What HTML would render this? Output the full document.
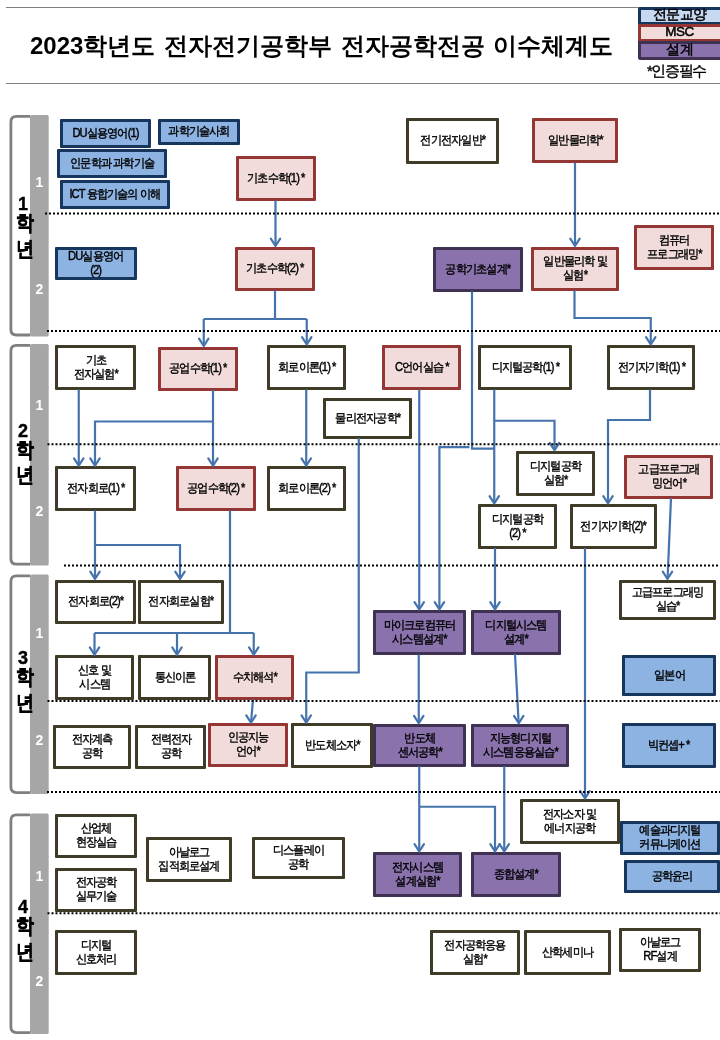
<!DOCTYPE html><html><head><meta charset="utf-8"><title>이수체계도</title><style>
*{margin:0;padding:0;box-sizing:border-box}
html,body{width:720px;height:1040px;overflow:hidden;background:#fff}
#pg{position:absolute;left:0;top:0;width:720px;height:1040px;will-change:transform}
body{position:relative;font-family:"Liberation Sans",sans-serif;color:#000}
.bx{position:absolute;display:flex;align-items:center;justify-content:center;text-align:center;border:3px solid;font-size:12px;line-height:14px;letter-spacing:-1px;white-space:nowrap;border-radius:1px}
.bx span{display:inline-block;transform:translateY(-0.8px) scaleX(0.93);-webkit-text-stroke:0.4px #000}
.w{background:#fff;border-color:#403b27}
.b{background:#8db3e2;border-color:#17365d}
.p{background:#f2dcdb;border-color:#943634}
.u{background:#8a72ad;border-color:#3f3151}
.title{position:absolute;left:30px;top:30px;font-size:24px;font-weight:bold;white-space:nowrap;line-height:32px;word-spacing:2px;letter-spacing:0px}
.lg{position:absolute;left:637.5px;width:90px;border:3px solid;border-right:0;font-size:13.5px;display:flex;align-items:center;justify-content:center;padding-right:9px;padding-bottom:2px;line-height:14px;letter-spacing:-0.5px;-webkit-text-stroke:0.5px #000;border-radius:0}
.yd{position:absolute;left:13px;width:20px;text-align:center;font-weight:bold;font-size:18px;line-height:20px;-webkit-text-stroke:0.4px #000}
.yh{position:absolute;left:13px;width:25px;text-align:center;font-weight:bold;font-size:21px;line-height:24px;transform:scaleX(0.86);-webkit-text-stroke:0.35px #000}
.sm{position:absolute;left:30px;width:19px;text-align:center;font-weight:bold;font-size:14px;color:#fff;line-height:14px}
</style></head><body><div id="pg">
<svg width="720" height="1040" style="position:absolute;left:0;top:0"><line x1="6" y1="7.5" x2="720" y2="7.5" stroke="#808080" stroke-width="1"/><line x1="6" y1="83.5" x2="720" y2="83.5" stroke="#808080" stroke-width="1"/><path d="M30,116.4 H16.4 Q10.9,116.4 10.9,121.9 V329.5 Q10.9,335.0 16.4,335.0 H30" fill="none" stroke="#7f7f7f" stroke-width="2.8"/><rect x="30" y="115" width="18.7" height="221.39999999999998" rx="1.5" fill="#a6a6a6"/><path d="M30,345.4 H16.4 Q10.9,345.4 10.9,350.9 V558.7 Q10.9,564.2 16.4,564.2 H30" fill="none" stroke="#7f7f7f" stroke-width="2.8"/><rect x="30" y="344" width="18.7" height="221.60000000000002" rx="1.5" fill="#a6a6a6"/><path d="M30,575.8 H16.4 Q10.9,575.8 10.9,581.3 V787.1 Q10.9,792.6 16.4,792.6 H30" fill="none" stroke="#7f7f7f" stroke-width="2.8"/><rect x="30" y="574.4" width="18.7" height="219.60000000000002" rx="1.5" fill="#a6a6a6"/><path d="M30,814.9 H16.4 Q10.9,814.9 10.9,820.4 V1027.1 Q10.9,1032.6 16.4,1032.6 H30" fill="none" stroke="#7f7f7f" stroke-width="2.8"/><rect x="30" y="813.5" width="18.7" height="220.5" rx="1.5" fill="#a6a6a6"/></svg>
<div class="yd" style="top:194.0px">1</div>
<div class="yh" style="top:211.3px">학</div>
<div class="yh" style="top:236.7px">년</div>
<div class="yd" style="top:420.7px">2</div>
<div class="yh" style="top:438.0px">학</div>
<div class="yh" style="top:463.4px">년</div>
<div class="yd" style="top:648.0px">3</div>
<div class="yh" style="top:665.3px">학</div>
<div class="yh" style="top:690.7px">년</div>
<div class="yd" style="top:896.8px">4</div>
<div class="yh" style="top:914.1px">학</div>
<div class="yh" style="top:939.5px">년</div>
<div class="bx b" style="left:60px;top:119px;width:91px;height:29px"><span>DU실용영어(1)</span></div>
<div class="bx b" style="left:158px;top:119px;width:82px;height:26px"><span>과학기술사회</span></div>
<div class="bx b" style="left:57px;top:149px;width:110px;height:29px"><span>인문학과 과학기술</span></div>
<div class="bx b" style="left:60px;top:180px;width:110px;height:29px"><span>ICT 융합기술의 이해</span></div>
<div class="bx p" style="left:236px;top:156px;width:80px;height:45px"><span>기초수학(1) *</span></div>
<div class="bx w" style="left:406px;top:118px;width:93px;height:46px"><span>전기전자일반*</span></div>
<div class="bx p" style="left:532px;top:118px;width:86px;height:45px"><span>일반물리학*</span></div>
<div class="bx b" style="left:55px;top:247px;width:82px;height:33px"><span>DU실용영어<br>(2)</span></div>
<div class="bx p" style="left:235px;top:247px;width:80px;height:44px"><span>기초수학(2) *</span></div>
<div class="bx u" style="left:433px;top:247px;width:90px;height:45px"><span>공학기초설계*</span></div>
<div class="bx p" style="left:531px;top:247px;width:88px;height:44px"><span>일반물리학 및<br>실험*</span></div>
<div class="bx p" style="left:634px;top:225px;width:80px;height:45px"><span>컴퓨터<br>프로그래밍*</span></div>
<div class="bx w" style="left:55px;top:345px;width:81px;height:45px"><span>기초<br>전자실험*</span></div>
<div class="bx p" style="left:158px;top:347px;width:80px;height:44px"><span>공업수학(1) *</span></div>
<div class="bx w" style="left:267px;top:345px;width:79px;height:45px"><span>회로이론(1) *</span></div>
<div class="bx p" style="left:382px;top:345px;width:79px;height:45px"><span>C언어실습 *</span></div>
<div class="bx w" style="left:478px;top:345px;width:94px;height:45px"><span>디지털공학(1) *</span></div>
<div class="bx w" style="left:607px;top:345px;width:88px;height:45px"><span>전기자기학(1) *</span></div>
<div class="bx w" style="left:323px;top:398px;width:89px;height:41px"><span>물리전자공학*</span></div>
<div class="bx w" style="left:516px;top:451px;width:79px;height:45px"><span>디지털공학<br>실험*</span></div>
<div class="bx p" style="left:624px;top:455px;width:89px;height:44px"><span>고급프로그래<br>밍언어*</span></div>
<div class="bx w" style="left:55px;top:466px;width:81px;height:45px"><span>전자회로(1) *</span></div>
<div class="bx p" style="left:176px;top:466px;width:80px;height:45px"><span>공업수학(2) *</span></div>
<div class="bx w" style="left:267px;top:466px;width:79px;height:45px"><span>회로이론(2) *</span></div>
<div class="bx w" style="left:478px;top:504px;width:79px;height:45px"><span>디지털공학<br>(2) *</span></div>
<div class="bx w" style="left:570px;top:504px;width:87px;height:45px"><span>전기자기학(2)*</span></div>
<div class="bx w" style="left:55px;top:580px;width:81px;height:44px"><span>전자회로(2)*</span></div>
<div class="bx w" style="left:138px;top:580px;width:86px;height:44px"><span>전자회로실험*</span></div>
<div class="bx w" style="left:619px;top:580px;width:97px;height:40px"><span>고급프로그래밍<br>실습*</span></div>
<div class="bx u" style="left:373px;top:610px;width:93px;height:45px"><span>마이크로컴퓨터<br>시스템설계*</span></div>
<div class="bx u" style="left:471px;top:610px;width:90px;height:45px"><span>디지털시스템<br>설계*</span></div>
<div class="bx w" style="left:55px;top:655px;width:79px;height:45px"><span>신호 및<br>시스템</span></div>
<div class="bx w" style="left:138px;top:655px;width:73px;height:45px"><span>통신이론</span></div>
<div class="bx p" style="left:215px;top:655px;width:79px;height:45px"><span>수치해석*</span></div>
<div class="bx b" style="left:622px;top:655px;width:94px;height:41px"><span>일본어</span></div>
<div class="bx w" style="left:53px;top:725px;width:78px;height:44px"><span>전자계측<br>공학</span></div>
<div class="bx w" style="left:135px;top:725px;width:71px;height:44px"><span>전력전자<br>공학</span></div>
<div class="bx p" style="left:208px;top:723px;width:80px;height:44px"><span>인공지능<br>언어*</span></div>
<div class="bx w" style="left:291px;top:723px;width:82px;height:45px"><span>반도체소자*</span></div>
<div class="bx u" style="left:373px;top:724px;width:93px;height:43px"><span>반도체<br>센서공학*</span></div>
<div class="bx u" style="left:471px;top:724px;width:98px;height:43px"><span>지능형디지털<br>시스템응용실습*</span></div>
<div class="bx b" style="left:622px;top:723px;width:94px;height:45px"><span>빅컨셉+ *</span></div>
<div class="bx w" style="left:55px;top:814px;width:82px;height:44px"><span>산업체<br>현장실습</span></div>
<div class="bx w" style="left:146px;top:837px;width:86px;height:45px"><span>아날로그<br>집적회로설계</span></div>
<div class="bx w" style="left:252px;top:837px;width:93px;height:42px"><span>디스플레이<br>공학</span></div>
<div class="bx w" style="left:520px;top:799px;width:100px;height:45px"><span>전자소자 및<br>에너지공학</span></div>
<div class="bx b" style="left:620px;top:821px;width:100px;height:34px"><span>예술과디지털<br>커뮤니케이션</span></div>
<div class="bx w" style="left:55px;top:868px;width:82px;height:44px"><span>전자공학<br>실무기술</span></div>
<div class="bx u" style="left:373px;top:852px;width:89px;height:45px"><span>전자시스템<br>설계실험*</span></div>
<div class="bx u" style="left:471px;top:852px;width:90px;height:45px"><span>종합설계*</span></div>
<div class="bx b" style="left:624px;top:860px;width:96px;height:33px"><span>공학윤리</span></div>
<div class="bx w" style="left:55px;top:930px;width:82px;height:45px"><span>디지털<br>신호처리</span></div>
<div class="bx w" style="left:430px;top:930px;width:90px;height:45px"><span>전자공학응용<br>실험*</span></div>
<div class="bx w" style="left:524px;top:930px;width:87px;height:45px"><span>산학세미나</span></div>
<div class="bx w" style="left:619px;top:928px;width:82px;height:44px"><span>아날로그<br>RF설계</span></div>
<svg width="720" height="1040" style="position:absolute;left:0;top:0"><g fill="none" stroke="#4573ab" stroke-width="2.2" stroke-linecap="butt" stroke-linejoin="miter"><path d="M275.5,200.5 V245"/><path d="M575,162.75 V245"/><path d="M275,290.5 V319 M203.75,319 H306.75 M203.75,319 V345 M306.75,319 V343.5"/><path d="M574.5,290.5 V318 H650.75 V343.5"/><path d="M472,291.25 V448.7 H494.25 M469.4,447.2 H439.4 V608.5"/><path d="M494.25,389.5 V502.5 M494.25,420.75 H554.5 V449.25"/><path d="M650,389.5 V420 H608 V502.5"/><path d="M78.75,389.5 V464.75"/><path d="M213,390 V464.75 M213,421.5 H95 V464.75"/><path d="M306.25,389.5 V464.75"/><path d="M358.75,438 V672.5 H306.25 V721.75"/><path d="M419.25,389.5 V608.5"/><path d="M495,548 V608.5"/><path d="M585,548 V797.5"/><path d="M671,498 L667.6,578"/><path d="M95,510.5 V578 M95,545 H180 V578"/><path d="M230,510.5 V633 M94.5,633 H253.75 M94.5,633 V653.75 M177,633 V653.75 M253.75,633 V653.75"/><path d="M253,699.25 L251.1,721.75"/><path d="M418.75,654.5 V722.25"/><path d="M515,654 L518.6,722.25"/><path d="M419.25,766.25 V850.5 M419.25,806.75 H495 V850.5"/><path d="M504.25,766.25 V850.5"/></g><g fill="none" stroke="#4573ab" stroke-width="2.2" stroke-linecap="round" stroke-linejoin="round"><path d="M270.8,238.6 L275.5,246 L280.2,238.6"/><path d="M570.3,238.6 L575,246 L579.7,238.6"/><path d="M199.05,338.6 L203.75,346 L208.45,338.6"/><path d="M302.05,337.1 L306.75,344.5 L311.45,337.1"/><path d="M646.05,337.1 L650.75,344.5 L655.45,337.1"/><path d="M434.7,602.1 L439.4,609.5 L444.09999999999997,602.1"/><path d="M489.55,496.1 L494.25,503.5 L498.95,496.1"/><path d="M549.8,442.85 L554.5,450.25 L559.2,442.85"/><path d="M603.3,496.1 L608,503.5 L612.7,496.1"/><path d="M74.05,458.35 L78.75,465.75 L83.45,458.35"/><path d="M208.3,458.35 L213,465.75 L217.7,458.35"/><path d="M90.3,458.35 L95,465.75 L99.7,458.35"/><path d="M301.55,458.35 L306.25,465.75 L310.95,458.35"/><path d="M301.55,715.35 L306.25,722.75 L310.95,715.35"/><path d="M414.55,602.1 L419.25,609.5 L423.95,602.1"/><path d="M490.3,602.1 L495,609.5 L499.7,602.1"/><path d="M580.3,791.1 L585,798.5 L589.7,791.1"/><path d="M662.8,571.6 L667.5,579 L672.2,571.6"/><path d="M90.3,571.6 L95,579 L99.7,571.6"/><path d="M175.3,571.6 L180,579 L184.7,571.6"/><path d="M89.8,647.35 L94.5,654.75 L99.2,647.35"/><path d="M172.3,647.35 L177,654.75 L181.7,647.35"/><path d="M249.05,647.35 L253.75,654.75 L258.45,647.35"/><path d="M246.3,715.35 L251,722.75 L255.7,715.35"/><path d="M414.05,715.85 L418.75,723.25 L423.45,715.85"/><path d="M514.05,715.85 L518.75,723.25 L523.45,715.85"/><path d="M414.55,844.1 L419.25,851.5 L423.95,844.1"/><path d="M490.3,844.1 L495,851.5 L499.7,844.1"/><path d="M499.55,844.1 L504.25,851.5 L508.95,844.1"/></g><line x1="45" y1="213.5" x2="720" y2="213.5" stroke="#000" stroke-width="2" stroke-dasharray="2 2"/><line x1="47" y1="331" x2="720" y2="331" stroke="#000" stroke-width="2" stroke-dasharray="2 2"/><line x1="47.5" y1="444.2" x2="720" y2="444.2" stroke="#000" stroke-width="2" stroke-dasharray="2 2"/><line x1="64" y1="565.5" x2="720" y2="565.5" stroke="#000" stroke-width="2" stroke-dasharray="2 2"/><line x1="47.5" y1="701" x2="720" y2="701" stroke="#000" stroke-width="2" stroke-dasharray="2 2"/><line x1="47" y1="792" x2="720" y2="792" stroke="#000" stroke-width="2" stroke-dasharray="2 2"/><line x1="47.5" y1="913.2" x2="720" y2="913.2" stroke="#000" stroke-width="2" stroke-dasharray="2 2"/></svg>
<div class="title">2023학년도 전자전기공학부 전자공학전공 이수체계도</div>
<div class="lg" style="top:6.5px;height:18px;background:#c6d9f1;border-color:#17365d;border-top-left-radius:3px">전문교양</div>
<div class="lg" style="top:24px;height:18px;background:#f2dcdb;border-color:#943634">MSC</div>
<div class="lg" style="top:41px;height:19px;background:#8a72ad;border-color:#3f3151;border-bottom-left-radius:3px">설계</div>
<div style="position:absolute;left:647px;top:62px;font-size:15px;line-height:18px;white-space:nowrap;letter-spacing:-1.4px;-webkit-text-stroke:0.4px #000">*인증필수</div>
<div class="sm" style="top:175px">1</div><div class="sm" style="top:281.5px">2</div>
<div class="sm" style="top:397.5px">1</div><div class="sm" style="top:503.5px">2</div>
<div class="sm" style="top:626px">1</div><div class="sm" style="top:732.6px">2</div>
<div class="sm" style="top:869px">1</div><div class="sm" style="top:974px">2</div>
</div></body></html>
